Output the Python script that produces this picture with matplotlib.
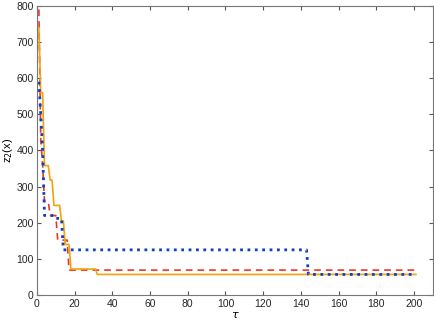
import matplotlib
matplotlib.use("Agg")
import matplotlib.pyplot as plt
import numpy as np

# step levels, with how many iterations each level lasts (tau = 1..201)
red_levels = [790, 430, 360, 258, 220, 152, 69]
red_counts = [1, 1, 1, 3, 4, 6, 185]

orange_levels = [740, 560, 358, 318, 248, 205, 140, 72, 57]
orange_counts = [1, 2, 3, 2, 4, 2, 3, 14, 170]

blue_levels = [590, 500, 400, 220, 212, 125, 57]
blue_counts = [1, 1, 1, 6, 4, 130, 58]

tau = np.arange(1, 202)
red = np.repeat(red_levels, red_counts)
orange = np.repeat(orange_levels, orange_counts)
blue = np.repeat(blue_levels, blue_counts)

plt.rcParams['font.family'] = ['Liberation Sans', 'DejaVu Sans']

fig = plt.figure(figsize=(4.35, 3.26), dpi=100)
ax = fig.add_axes([0.085, 0.095, 0.91, 0.887])

ax.plot(tau, red, '--', color='#e8362c', linewidth=1.2, dashes=(4, 3))
ax.plot(tau, orange, '-', color='#f0a30a', linewidth=1.2)
ax.plot(tau, blue, ':', color='#1240b8', linewidth=2.0)

ax.set_xlim(0, 210)
ax.set_ylim(0, 800)
ax.set_xticks(np.arange(0, 201, 20))
ax.set_yticks(np.arange(0, 801, 100))
ax.tick_params(direction='in', top=True, right=True, labelsize=7.5, length=3,
               color='#555555', labelcolor='#262626', pad=2.5)
for s in ax.spines.values():
    s.set_color('#777777')
    s.set_linewidth(0.8)

ax.set_xlabel(r'$\tau$', fontsize=8, labelpad=1)
ax.set_ylabel(r'z$_2$(x)', fontsize=8)
ax.yaxis.set_label_coords(-0.055, 0.5)

fig.savefig('out.png', dpi=100)
